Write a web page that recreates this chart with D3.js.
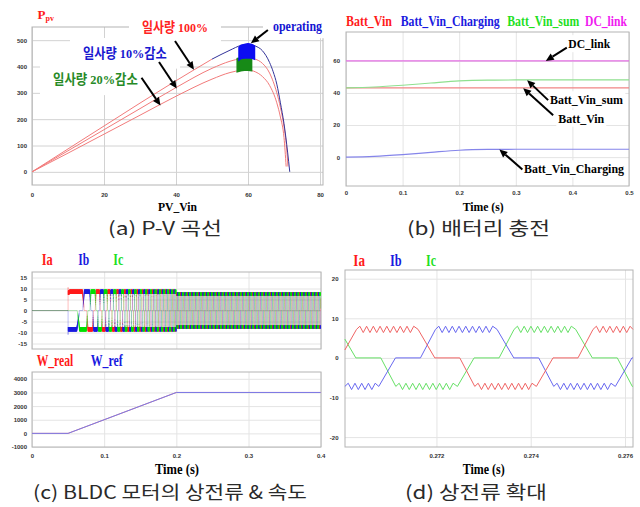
<!DOCTYPE html>
<html>
<head>
<meta charset="utf-8">
<script src="https://cdn.jsdelivr.net/npm/d3@7"></script>
<style>
  body { margin: 0; background: #fff; }
  svg { display: block; }
  .lg { font-family: "Liberation Serif", "Noto Sans CJK KR", serif; font-weight: bold; }
  .cap { font-family: "Noto Sans CJK KR", sans-serif; font-weight: 400; fill: #2a2a2a; }
</style>
</head>
<body>
<div id="fig"></div>
<script>
// ---------- (a) P-V curves ----------
const pvV100 = [0, 10, 20, 30, 40, 50, 55, 58, 60, 62, 64, 66, 67, 68, 69, 70, 71, 71.6];
const pvP100 = [0, 87, 174, 261, 346, 428, 462, 480, 485, 478, 460, 415, 380, 333, 262, 183, 75, 0];
const pvV90 = [0, 10, 20, 30, 40, 50, 55, 58, 60, 62, 64, 66, 68, 69, 70, 70.6, 71.1];
const pvP90 = [0, 80, 160, 240, 320, 393, 420, 430, 433, 428, 412, 375, 300, 245, 172, 110, 20];
const pvV80 = [0, 10, 20, 30, 40, 50, 55, 58, 60, 62, 64, 66, 68, 69, 70, 70.6];
const pvP80 = [0, 71, 143, 215, 287, 352, 377, 385, 386, 380, 362, 328, 262, 208, 130, 20];
const mpptBlueV = [57.5, 58, 59, 60, 61, 61.8];
const mpptBlueTop = [472, 480, 484, 486, 484, 478];
const mpptBlueBot = [425, 430, 432, 433, 432, 428];
const mpptGreenV = [57, 58, 59, 60, 61];
const mpptGreenTop = [430, 432, 434, 434, 432];
const mpptGreenBot = [380, 384, 386, 386, 384];
const pvXTicks = [0, 20, 40, 60, 80];
const pvYTicks = [0, 100, 200, 300, 400, 500];

// ---------- (b) battery charging ----------
const battT = [0, 0.05, 0.1, 0.15, 0.2, 0.25, 0.3, 0.5];
const battVin = [43.2, 43.2, 43.2, 43.2, 43.2, 43.2, 43.2, 43.2];
const battCharging = [0, 0.5, 1.6, 3.0, 4.3, 4.8, 4.9, 4.9];
const battSum = [43.2, 43.7, 44.8, 46.2, 47.5, 48.0, 48.1, 48.1];
const dcLink = [60, 60, 60, 60, 60, 60, 60, 60];
const battXTicks = [0, 0.1, 0.2, 0.3, 0.4, 0.5];
const battYTicks = [0, 20, 40, 60];

// ---------- (c) BLDC phase currents & speed ----------
const speedT = [0, 0.05, 0.2, 0.4];
const wRef = [0, 0, 3000, 3000];
const wReal = [0, 0, 3000, 3000];
const polePairs = 4;                       // 3000 rpm -> ~200 Hz electrical, as in (d)
const levelT = [0.05, 0.2];                // current plateau level changes
const levelA = [8.5, 7.5];
const rippleA = [1.0, 0.75];
const pwmHz = 7000;
const startAngle = 0.06;
const startSpike = [10.5, -11, 0];         // Ia, Ib, Ic at switch-on
const shapePhase = [0, 0.063, 0.324, 0.394, 0.5, 0.563, 0.824, 0.894, 1];
const shapeLevel = [0, 1, 1, 0, 0, -1, -1, 0, 0];
const motorXTicks = [0, 0.1, 0.2, 0.3, 0.4];
const curYTicks = [-15, -10, -5, 0, 5, 10, 15];
const spdYTicks = [-1000, 0, 1000, 2000, 3000, 4000];

// ---------- (d) zoomed phase currents (corner points) ----------
const iaT = [0.270057, 0.270304, 0.271611, 0.271965, 0.272495, 0.272813, 0.274120, 0.274473, 0.275003, 0.275322, 0.276169];
const iaV = [2.0, 7.2, 7.2, 0, 0, -7.2, -7.2, 0, 0, 7.2, 7.2];
const ibT = [0.270057, 0.270777, 0.271131, 0.271661, 0.271979, 0.273286, 0.273640, 0.274170, 0.274488, 0.275795, 0.276148, 0.276169];
const ibV = [-7.2, -7.2, 0, 0, 7.2, 7.2, 0, 0, -7.2, -7.2, 0, 0];
const icT = [0.270057, 0.270290, 0.270820, 0.271138, 0.272445, 0.272799, 0.273329, 0.273647, 0.274954, 0.275307, 0.275837, 0.276155, 0.276169];
const icV = [4.75, 0, 0, -7.2, -7.2, 0, 0, 7.2, 7.2, 0, 0, -7.2, -7.2];
const zoomRipple = 0.8;
const zoomXTicks = [0.272, 0.274, 0.276];
const zoomYTicks = [-20, -10, 0, 10, 20];

const RED = "#ff1a1a", BLUE = "#1a1ae0", GREEN = "#1fe01f";

const svg = d3.select("#fig").append("svg").attr("width", 640).attr("height", 507);
svg.append("rect").attr("width", 640).attr("height", 507).attr("fill", "#fff");

function zip(xs, ys) { return xs.map((x, i) => [x, ys[i]]); }

function interp(xs, ys, x) {
  if (x <= xs[0]) return ys[0];
  for (let i = 1; i < xs.length; i++) {
    if (x <= xs[i]) return ys[i - 1] + (ys[i] - ys[i - 1]) * (x - xs[i - 1]) / (xs[i] - xs[i - 1]);
  }
  return ys[ys.length - 1];
}
function stepLookup(ts, vs, t) {
  let v = vs[0];
  ts.forEach((s, i) => { if (t >= s) v = vs[i]; });
  return v;
}

// one plot box: grid, ticks and frame, with layers for marks and text
function panel(f, xDom, xRange, yDom, xTicks, yTicks, opt) {
  const g = svg.append("g");
  const x = d3.scaleLinear().domain(xDom).range(xRange);
  const y = d3.scaleLinear().domain(yDom).range([f.b, f.t]);
  const grid = g.append("g");
  const gy = grid.append("g").attr("transform", `translate(${f.l},0)`)
    .call(d3.axisLeft(y).tickValues(yTicks).tickSize(-(f.r - f.l)).tickPadding(opt.yPad).tickFormat(d => d));
  const gx = grid.append("g").attr("transform", `translate(0,${f.b})`)
    .call(d3.axisBottom(x).tickValues(xTicks).tickSize(-(f.b - f.t)).tickPadding(opt.xPad).tickFormat(d => d));
  [gy, gx].forEach(a => {
    a.select(".domain").remove();
    a.selectAll("line").attr("stroke", opt.grid || "#e4e4e4");
    a.selectAll("text").attr("fill", "#333");
    a.attr("font-size", 6).attr("font-family", '"Liberation Sans", Arial, sans-serif').attr("font-weight", "bold");
  });
  if (opt.noXLabels) gx.selectAll("text").remove();
  grid.append("rect").attr("x", f.l).attr("y", f.t).attr("width", f.r - f.l).attr("height", f.b - f.t)
    .attr("fill", "none").attr("stroke", "#b4b4b4");
  const boxes = g.append("g");
  const marks = g.append("g");
  const text = g.append("g");
  return { x, y, marks, text, boxes };
}

// text squeezed horizontally to the width measured on the reference
function fitText(parent, cls, txt, x, y, size, color, len) {
  const t = parent.append("text").attr("class", cls).attr("font-size", size).attr("fill", color).text(txt);
  const k = len / t.node().getComputedTextLength();
  t.attr("transform", `translate(${x},${y}) scale(${k},1)`);
  return { t, k };
}

function label(p, txt, x, y, size, color, len, pad) {
  const { t, k } = fitText(p.text, "lg", txt, x, y, size, color, len);
  if (pad) {
    const b = t.node().getBBox();
    p.boxes.append("rect").attr("x", x + b.x * k - pad[0]).attr("y", y + b.y - pad[1])
      .attr("width", b.width * k + 2 * pad[0]).attr("height", b.height + 2 * pad[1]).attr("fill", "#fff");
  }
  return t;
}

function caption(txt, x, y, len) {
  fitText(svg, "cap", txt, x, y, 18, "#2a2a2a", len);
}

function arrow(p, tip, dx, dy) {
  const [x2, y2] = tip, x1 = x2 + dx, y1 = y2 + dy;
  const a = Math.atan2(y2 - y1, x2 - x1), L = 8, w = 3.6;
  const bx = x2 - L * Math.cos(a), by = y2 - L * Math.sin(a);
  p.text.append("line").attr("x1", x1).attr("y1", y1).attr("x2", bx).attr("y2", by)
    .attr("stroke", "#000").attr("stroke-width", 2);
  p.text.append("path")
    .attr("d", `M${x2},${y2}L${bx - w * Math.sin(a)},${by + w * Math.cos(a)}L${bx + w * Math.sin(a)},${by - w * Math.cos(a)}Z`)
    .attr("fill", "#000");
}

function drawLine(p, pts, color, width, extra) {
  const line = d3.line().x(d => p.x(d[0])).y(d => p.y(d[1])).curve((extra && extra.curve) || d3.curveLinear);
  return p.marks.append("path").attr("d", line(pts)).attr("fill", "none")
    .attr("stroke", color).attr("stroke-width", width).attr("stroke-linejoin", "round");
}

// ===================== (a) =====================
const pa = panel({ l: 32, r: 323, t: 27, b: 185 }, [0, 80], [32, 320], [-50, 550], pvXTicks, pvYTicks,
  { xPad: 8, yPad: 5, grid: "#d2d2d2" });
const smooth = { curve: d3.curveMonotoneX };
drawLine(pa, zip(pvV80, pvP80), "#f27b7b", 1, smooth);
drawLine(pa, zip(pvV90, pvP90), "#f27b7b", 1, smooth);
const full100 = zip(pvV100, pvP100);
drawLine(pa, full100.filter(d => d[0] <= 50), "#f27b7b", 1, smooth);
drawLine(pa, full100.filter(d => d[0] >= 50), "#34349a", 1, smooth);
const blobArea = (tops, bots) => d3.area().x(d => pa.x(d[0])).y0((d, i) => pa.y(bots[i])).y1((d, i) => pa.y(tops[i]));
pa.marks.append("path").attr("d", blobArea(mpptGreenTop, mpptGreenBot)(mpptGreenV.map(v => [v])))
  .attr("fill", "#178a17").attr("stroke", "#178a17").attr("stroke-width", 1.5);
pa.marks.append("path").attr("d", blobArea(mpptBlueTop, mpptBlueBot)(mpptBlueV.map(v => [v])))
  .attr("fill", "#0c0cf2").attr("stroke", "#0c0cf2").attr("stroke-width", 1.5);

const ppv = pa.text.append("text").attr("class", "lg").attr("x", 37.5).attr("y", 19).attr("fill", RED).attr("font-size", 13);
ppv.append("tspan").text("P");
ppv.append("tspan").attr("font-size", 8).attr("dy", 2).text("pv");
label(pa, "일사량 100%", 142, 31.5, 13.5, "#ff2222", 66, [13, 8]);
label(pa, "operating", 273, 31, 14, "#1414d2", 49, [10, 4]);
label(pa, "일사량 10%감소", 83, 57.5, 13.5, "#1818d0", 84, [13, 8]);
label(pa, "일사량 20%감소", 53, 84, 13.5, "#278a27", 85, [13, 8]);
label(pa, "PV_Vin", 158, 210.5, 13, "#000", 39);
arrow(pa, [pa.x(45), pa.y(388)], -19, -28.6);
arrow(pa, [pa.x(40.2), pa.y(316)], -17.7, -26.6);
arrow(pa, [pa.x(35.7), pa.y(252)], -19, -27.7);
arrow(pa, [pa.x(60.8), pa.y(488)], 17, -13.3);
caption("(a) P-V 곡선", 108, 235, 114);

// ===================== (b) =====================
const pb = panel({ l: 346, r: 629, t: 32, b: 186 }, [0, 0.5], [346, 629], [-18, 78], battXTicks, battYTicks,
  { xPad: 4.5, yPad: 6 });
drawLine(pb, zip(battT, dcLink), "#e46ee4", 1.2);
drawLine(pb, zip(battT, battVin), "#f08585", 1.2);
drawLine(pb, zip(battT, battSum), "#8fe08f", 1.2, smooth);
drawLine(pb, zip(battT, battCharging), "#8585ea", 1.2, smooth);
label(pb, "Batt_Vin", 346, 26, 14, RED, 46);
label(pb, "Batt_Vin_Charging", 400.7, 26, 14, BLUE, 99);
label(pb, "Batt_Vin_sum", 507.3, 26, 14, GREEN, 72);
label(pb, "DC_link", 585, 26, 14, "#f01cf0", 42);
label(pb, "DC_link", 568.3, 48, 13.5, "#000", 42, [2, 1]);
label(pb, "Batt_Vin_sum", 550, 104, 13.5, "#000", 73, [2, 1]);
label(pb, "Batt_Vin", 558.3, 122.5, 13.5, "#000", 46, [2, 1]);
label(pb, "Batt_Vin_Charging", 524, 173, 13.5, "#000", 100, [2, 1]);
arrow(pb, [pb.x(0.353), pb.y(60)], 21, -13.3);
arrow(pb, [pb.x(0.320), pb.y(48)], 21, 20);
arrow(pb, [pb.x(0.313), pb.y(43)], 30, 27);
arrow(pb, [pb.x(0.271), pb.y(4.8)], 23, 20);
label(pb, "Time (s)", 462.7, 210.5, 13.5, "#000", 41);
caption("(b) 배터리 충전", 407, 235, 143);

// ===================== (c) =====================
const pc1 = panel({ l: 32, r: 321, t: 272, b: 349 }, [0, 0.4], [32, 320.7], [-17.5, 17.5], motorXTicks, curYTicks,
  { xPad: 7, yPad: 5, noXLabels: true });
const pc2 = panel({ l: 32, r: 321, t: 372, b: 447 }, [0, 0.4], [32, 320.7], [-1000, 4500], motorXTicks, spdYTicks,
  { xPad: 7, yPad: 5 });

// six-step phase currents: trapezoid shape (read from (d)) driven by the speed trace
const phaseShift = [0, 1 / 3, 2 / 3];
const motorI = phaseShift.map((s, p) => [[0, 0], [levelT[0], 0], [levelT[0], startSpike[p]]]);
{
  const h = 1 / (2 * pwmHz);
  let theta = startAngle;
  const t0 = levelT[0] + 0.0001;
  for (let k = 0; ; k++) {
    const t = t0 + k * h;
    if (t > 0.4) break;
    const lvl = stepLookup(levelT, levelA, t), rip = stepLookup(levelT, rippleA, t);
    phaseShift.forEach((s, p) => {
      const f = theta - s - Math.floor(theta - s);
      const sh = interp(shapePhase, shapeLevel, f);
      motorI[p].push([t, lvl * sh + (k % 2 ? rip : -rip) * Math.abs(sh)]);
    });
    theta += polePairs / 60 * interp(speedT, wRef, t + h / 2) * h;
  }
}
[RED, BLUE, "#00e000"].forEach((c, p) => drawLine(pc1, motorI[p], c, 0.7).attr("stroke-opacity", 0.4));

drawLine(pc2, zip(speedT, wReal), "#f08585", 1);
drawLine(pc2, zip(speedT, wRef), "#7a7ae8", 1);
label(pc1, "Ia", 41.7, 265, 16, RED, 11);
label(pc1, "Ib", 78.3, 265, 16, BLUE, 11);
label(pc1, "Ic", 113.3, 265, 16, GREEN, 10);
label(pc2, "W_real", 36.7, 366, 16, RED, 36.6);
label(pc2, "W_ref", 90.7, 366, 16, BLUE, 32);
label(pc2, "Time (s)", 155, 474, 14, "#000", 44);
caption("(c) BLDC 모터의 상전류 & 속도", 33, 499, 274);

// ===================== (d) =====================
const pd = panel({ l: 345, r: 633, t: 270, b: 447 }, [0.27006, 0.27617], [345, 633], [-22.5, 22.2], zoomXTicks, zoomYTicks,
  { xPad: 7, yPad: 6.5 });

function withRipple(ts, vs) {
  const h = 1 / (2 * pwmHz), pts = [];
  for (let i = 0; i < ts.length - 1; i++) {
    pts.push([ts[i], vs[i]]);
    if (vs[i] === vs[i + 1] && vs[i] !== 0) {
      for (let k = 1, t = ts[i] + h; t < ts[i + 1] - h / 2; k++, t += h) {
        pts.push([t, vs[i] + (k % 2 ? zoomRipple : -zoomRipple)]);
      }
    }
  }
  pts.push([ts[ts.length - 1], vs[vs.length - 1]]);
  return pts;
}
drawLine(pd, withRipple(icT, icV), "#66e066", 1);
drawLine(pd, withRipple(ibT, ibV), "#6868f0", 1);
drawLine(pd, withRipple(iaT, iaV), "#f06464", 1);
label(pd, "Ia", 353.3, 265.5, 16, RED, 11.7);
label(pd, "Ib", 390, 265.5, 16, BLUE, 11.7);
label(pd, "Ic", 426, 265.5, 16, GREEN, 10);
label(pd, "Time (s)", 462.7, 474, 14, "#000", 42);
caption("(d) 상전류 확대", 405, 499, 142);
</script>
</body>
</html>
